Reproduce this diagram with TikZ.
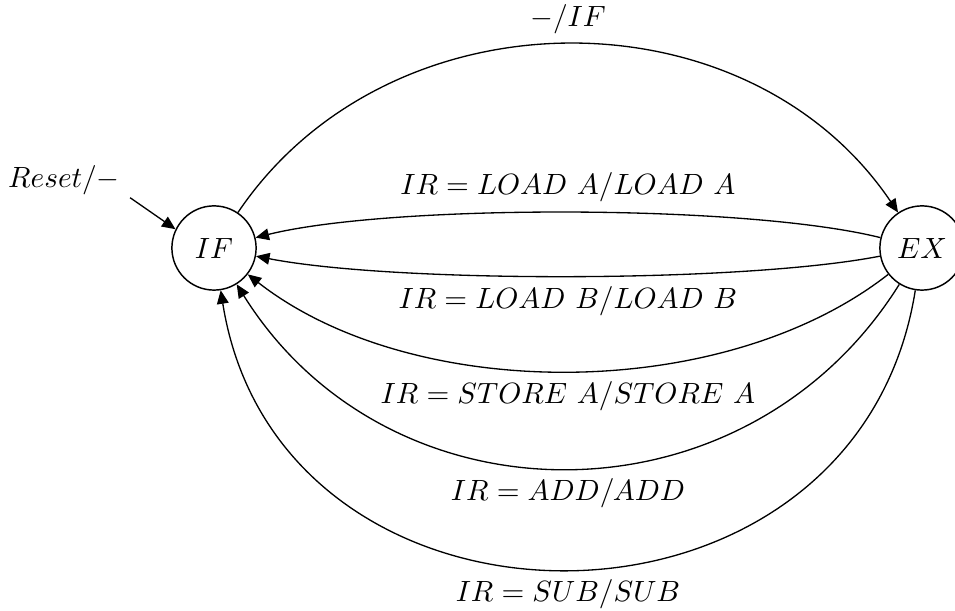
\documentclass[tikz,border=0pt]{standalone}
\usepackage{amsmath,amssymb}
\usetikzlibrary{arrows.meta}

\begin{document}
\begin{tikzpicture}[x=0.012cm,y=0.012cm]
\tikzset{
  statenode/.style={circle,draw=black,line width=0.5pt,minimum size=10.1mm,inner sep=1pt},
  transedge/.style={draw=black,line width=0.45pt},
  directed/.style={transedge,-{Triangle[length=4.6pt,width=4pt]}}
}
\useasboundingbox (0,0) rectangle (955,-611);
\node[statenode] (n_IF) at (214,-248) {$IF$};
\node[statenode] (n_EX) at (922,-248) {$EX$};
\node (n_reset) at (64,-180) {$Reset/-$};
\draw[directed] (n_reset.-15) -- (n_IF.154);
\draw[directed] (n_IF) to[bend left=56,looseness=1.05] node[above] {$-/IF$} (n_EX);
\draw[directed] (n_EX) to[bend right=14,looseness=0.57] node[above] {$IR = LOAD\ A/LOAD\ A$} (n_IF);
\draw[directed] (n_EX) to[bend left=11,looseness=0.58] node[below] {$IR = LOAD\ B/LOAD\ B$} (n_IF);
\draw[directed] (n_EX) to[bend left=38,looseness=0.84] node[below] {$IR = STORE\ A/STORE\ A$} (n_IF);
\draw[directed] (n_EX) to[bend left=58,looseness=1.12] node[below] {$IR = ADD/ADD$} (n_IF);
\draw[directed] (n_EX) to[bend left=81,looseness=1.39] node[below] {$IR = SUB/SUB$} (n_IF);
\end{tikzpicture}
\end{document}
